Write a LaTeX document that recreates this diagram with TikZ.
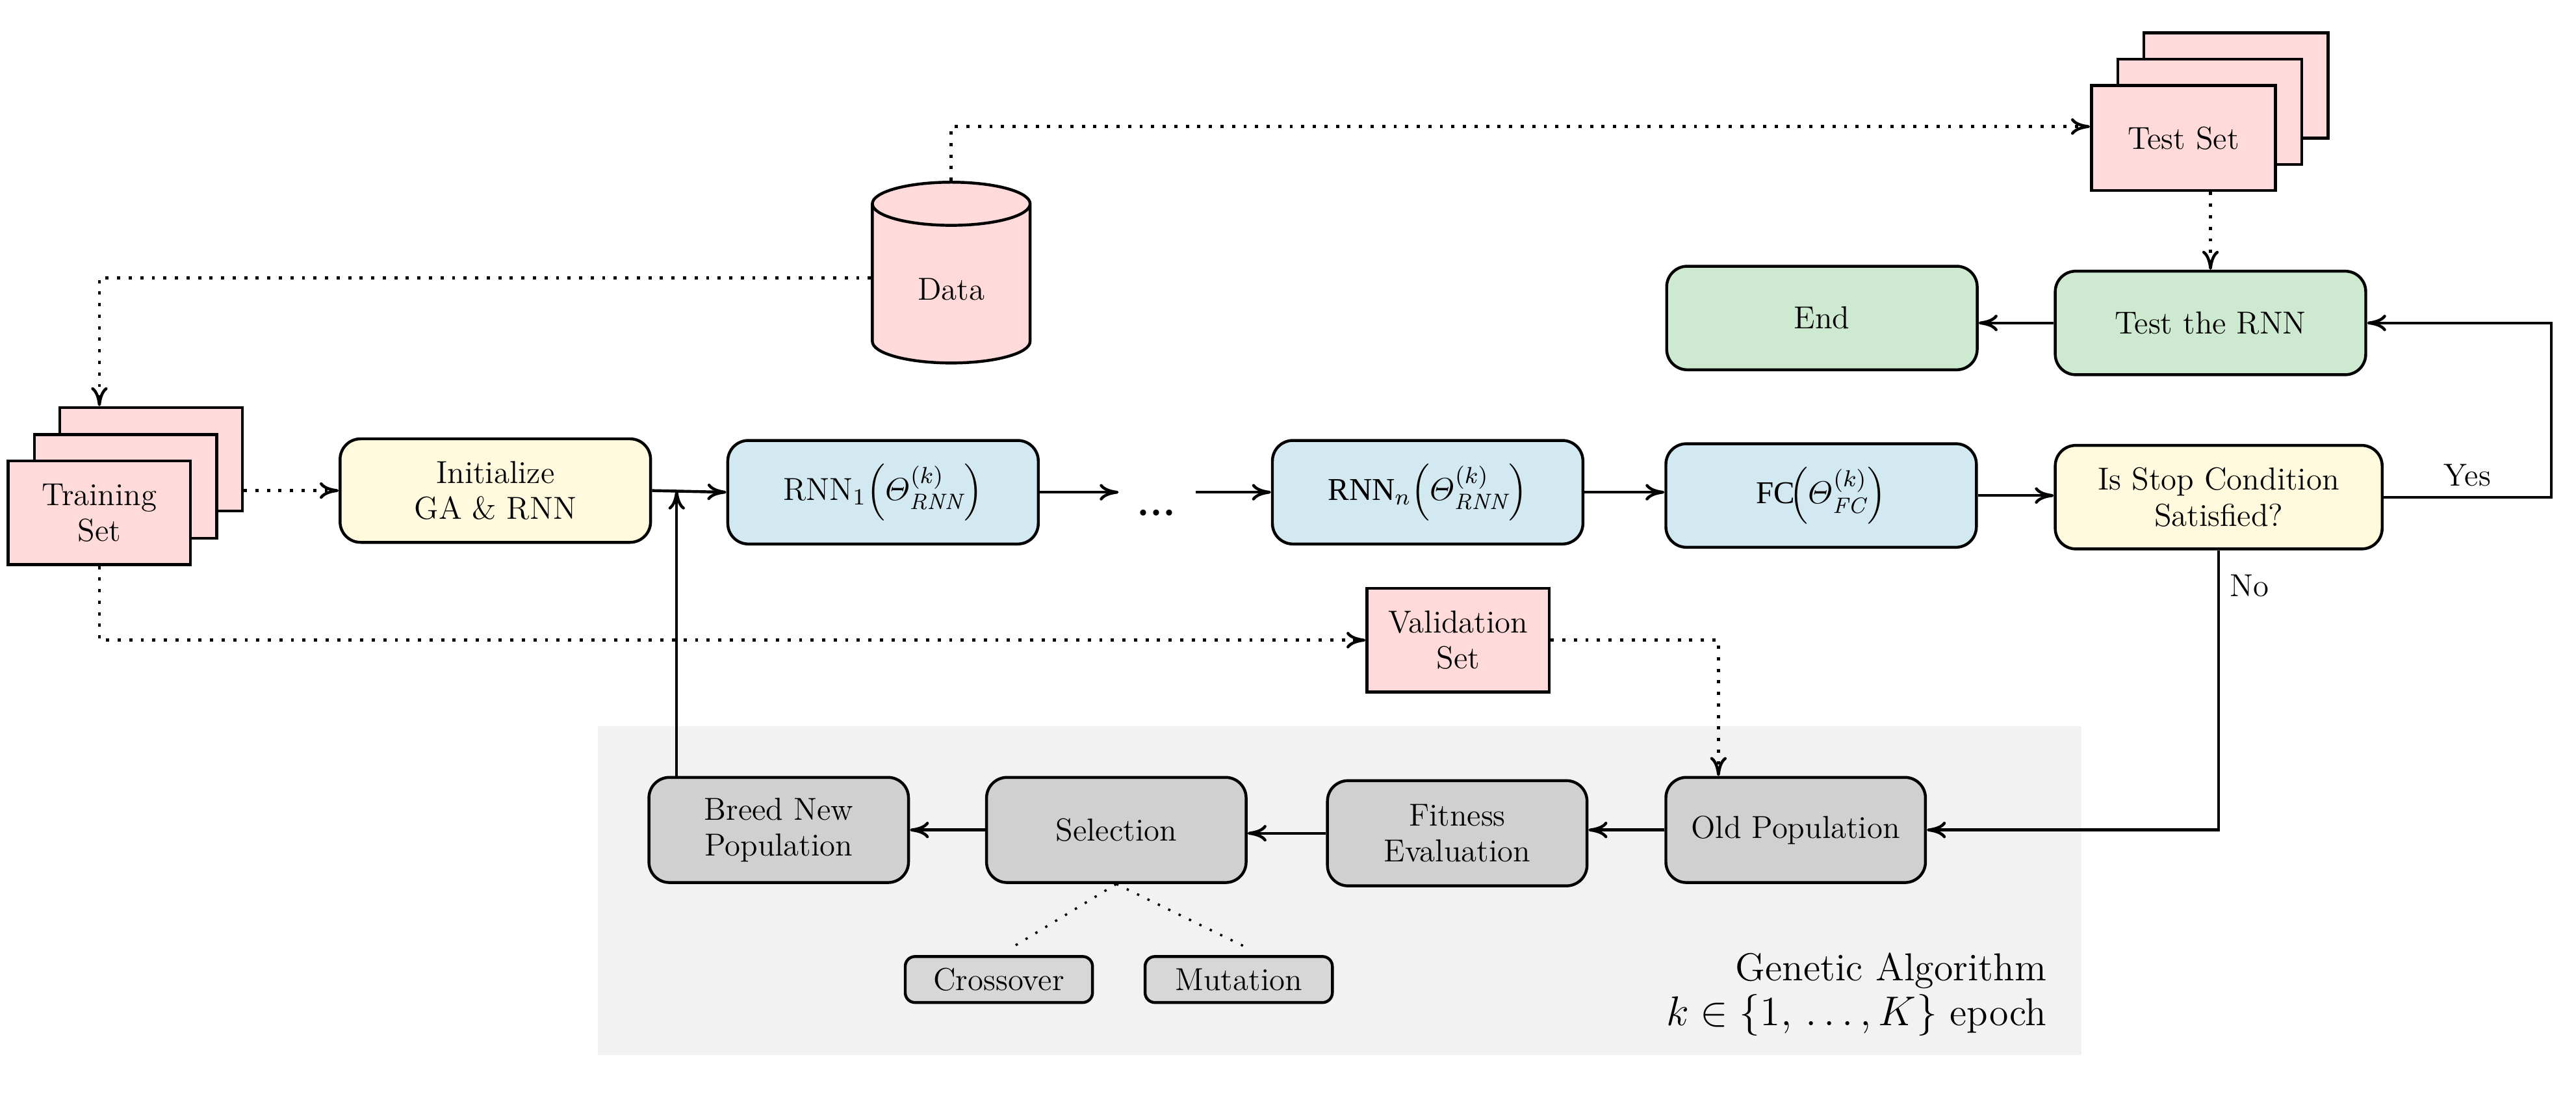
\documentclass[tikz,border=0pt]{standalone}
\usepackage{amsmath}
\usepackage{fontspec}
\newfontfamily\nnfont{Liberation Serif}
\usepackage{xcolor}
\usepackage{tikz}
\usetikzlibrary{arrows.meta}
\usetikzlibrary{shapes}
\usetikzlibrary{positioning}
\definecolor{SetPink}{RGB}{255,218,218}
\definecolor{InitYellow}{RGB}{255,250,222}
\definecolor{NetBlue}{RGB}{210,233,241}
\definecolor{EndGreen}{RGB}{205,233,207}
\definecolor{GAGray}{RGB}{208,208,208}
\definecolor{OpGray}{RGB}{215,215,215}
\definecolor{GABack}{RGB}{242,242,242}
\tikzset{
  every node/.append style={font=\fontsize{11}{12.5}\selectfont},
  SetBox/.style={
    rectangle, draw=black, line width=1pt, fill=SetPink,
    minimum width=2.22cm, minimum height=1.26cm,
    align=center, inner sep=1pt,
  },
  FlowBox/.style={
    rectangle, rounded corners=2.5mm, draw=black, line width=1pt,
    minimum width=3.78cm, minimum height=1.26cm,
    align=center, inner sep=1pt,
  },
  GABox/.style={FlowBox, fill=GAGray, minimum width=3.16cm, minimum height=1.28cm},
  OpBox/.style={FlowBox, rounded corners=1.2mm, fill=OpGray, minimum width=2.28cm, minimum height=0.56cm},
  FlowLine/.style={line width=1pt, -{Computer Modern Rightarrow[length=2.3mm, width=2mm]}},
  DataLine/.style={line width=1.1pt, dash pattern=on 1.1pt off 2.9pt,
    -{Computer Modern Rightarrow[length=2.3mm, width=2mm, line width=1pt]}},
  PlainDots/.style={line width=0.8pt, dash pattern=on 0.8pt off 3.2pt},
}
\begin{document}
\begin{tikzpicture}
\useasboundingbox (0,0) rectangle (31.36,-13.36);
\fill[GABack] (7.28,-8.84) rectangle (25.34,-12.84);
\node[SetBox] (TrainBack) at (1.84,-5.59) {};
\node[SetBox] (TrainMid) at (1.53,-5.92) {};
\node[SetBox] (TrainSet) at (1.21,-6.24) {Training\\Set};
\node[SetBox, minimum width=2.24cm, minimum height=1.28cm] (TestBack) at (27.22,-1.04) {};
\node[SetBox, minimum width=2.24cm, minimum height=1.28cm] (TestMid) at (26.90,-1.36) {};
\node[SetBox, minimum width=2.24cm, minimum height=1.28cm] (TestSet) at (26.58,-1.68) {Test Set};
\node[SetBox] (Valid) at (17.75,-7.79) {Validation\\Set};
\node[cylinder, shape border rotate=90, draw=black, line width=1pt, fill=SetPink, aspect=0.5,
  minimum width=1.92cm, minimum height=2.2cm] (Data) at (11.58,-3.52) {Data};
\node[FlowBox, fill=InitYellow] (Init) at (6.03,-5.97) {Initialize\\GA \& RNN};
\node[FlowBox, fill=NetBlue] (RNNone) at (10.75,-5.99) {RNN$_1\!\left(\varTheta^{(k)}_{\mathit{RNN}}\right)$};
\node (Dots) at (14.08,-6.24) {\Large\textbf{...}};
\node[FlowBox, fill=NetBlue] (RNNn) at (17.38,-5.99) {{\nnfont RNN}$_n\!\left(\varTheta^{(k)}_{\mathit{RNN}}\right)$};
\node[FlowBox, fill=NetBlue] (FC) at (22.17,-6.03) {{\nnfont FC}$\!\left(\varTheta^{(k)}_{\mathit{FC}}\right)$};
\node[FlowBox, fill=InitYellow, minimum width=3.98cm] (Stop) at (27.01,-6.05) {Is Stop Condition\\Satisfied?};
\node[FlowBox, fill=EndGreen] (TestRNN) at (26.91,-3.93) {Test the RNN};
\node[FlowBox, fill=EndGreen] (End) at (22.18,-3.87) {End};
\node[GABox] (Breed) at (9.48,-10.10) {Breed New\\Population};
\node[GABox] (Select) at (13.59,-10.10) {Selection};
\node[GABox] (Fitness) at (17.74,-10.14) {Fitness\\Evaluation};
\node[GABox] (OldPop) at (21.86,-10.10) {Old Population};
\node[OpBox] (Cross) at (12.16,-11.92) {Crossover};
\node[OpBox] (Mut) at (15.08,-11.92) {Mutation};
\node[anchor=east, align=right, inner sep=0pt, font=\fontsize{13.5}{15.5}\selectfont] (GALabel) at (24.92,-12.1)
  {Genetic Algorithm\\$k \in \{1,\,\ldots,K\}$ epoch};
\draw[DataLine] (Data.north) |- ([yshift=0.14cm]TestSet.west);
\draw[DataLine] ([yshift=0.14cm]Data.west) -| (TrainSet.north |- TrainBack.north);
\draw[DataLine] (TrainBack.east |- Init.west) -- (Init.west);
\draw[DataLine] (TrainSet.south) |- (Valid.west);
\draw[DataLine] (Valid.east) -| ([xshift=-0.94cm]OldPop.north);
\draw[DataLine] (TestRNN.north |- TestSet.south) -- (TestRNN.north);
\coordinate (Join) at ([xshift=0.3cm]Init.east);
\coordinate (DotsIn) at ([xshift=0.96cm]RNNone.east);
\coordinate (DotsOut) at ([xshift=-0.92cm]RNNn.west);
\draw[FlowLine] (Init.east) -- (RNNone.west);
\draw[FlowLine] (Join |- Breed.north) -- (Join);
\draw[FlowLine] (RNNone.east) -- (DotsIn);
\draw[FlowLine] (DotsOut) -- (RNNn.west);
\draw[FlowLine] (RNNn.east) -- (RNNn.east -| FC.west);
\draw[FlowLine] (FC.east) -- (FC.east -| Stop.west);
\draw[FlowLine] (Stop.east) -- node[above] {Yes} ++(2.04,0) |- (TestRNN.east);
\draw[FlowLine] (TestRNN.west) -- (TestRNN.west -| End.east);
\draw[FlowLine] (Stop.south) |- node[pos=0.063, right] {No} (OldPop.east);
\draw[FlowLine] (OldPop.west) -- (OldPop.west -| Fitness.east);
\draw[FlowLine] (Fitness.west) -- (Fitness.west -| Select.east);
\draw[FlowLine] (Select.west) -- (Breed.east);
\draw[PlainDots] (Select.south) -- ([xshift=0.14cm, yshift=0.08cm]Cross.north);
\draw[PlainDots] (Select.south) -- ([xshift=0.12cm, yshift=0.08cm]Mut.north);
\end{tikzpicture}
\end{document}
